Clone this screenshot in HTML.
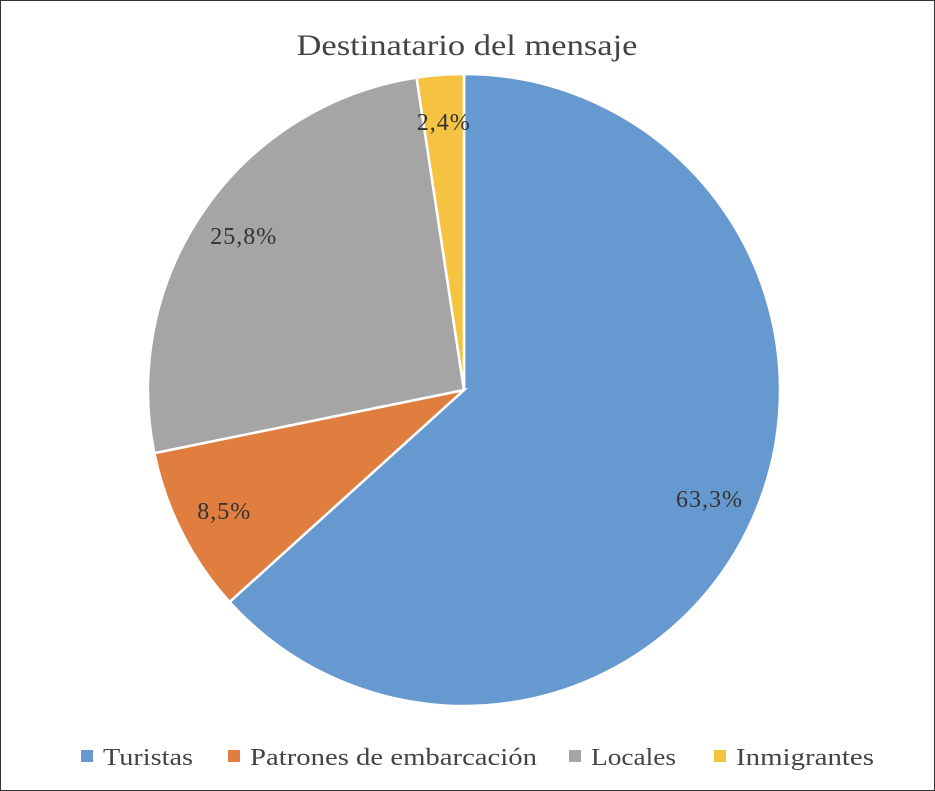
<!DOCTYPE html>
<html><head><meta charset="utf-8"><style>
body{margin:0;background:#fff}
#wrap{position:relative;width:933px;height:789px;border:1px solid #333;background:#fff;overflow:hidden}
text{font-family:"Liberation Serif",serif}
</style></head><body>
<div id="wrap">
<svg id="chart" width="933" height="789">
<text x="466" y="54" text-anchor="middle" font-size="30" fill="#444" textLength="341" lengthAdjust="spacingAndGlyphs">Destinatario del mensaje</text>
<g id="slices"></g><g id="labels"></g><g id="legend"></g>
</svg></div>
<script>
const categories=["Turistas","Patrones de embarcación","Locales","Inmigrantes"];
const values=[63.3,8.5,25.8,2.4];
const valueLabels=["63,3%","8,5%","25,8%","2,4%"];
const colors=["#6699D0","#E07E40","#A5A5A5","#F5C242"];
const ns="http://www.w3.org/2000/svg";
const cx=463,cy=389,R=316;
const total=values.reduce((a,b)=>a+b,0);
let a0=0;
const sg=document.getElementById('slices'),lg=document.getElementById('labels'),leg=document.getElementById('legend');
function pt(a,r){return [cx+r*Math.sin(a),cy-r*Math.cos(a)];}
values.forEach((v,i)=>{
 const a1=a0+v/total*2*Math.PI;
 const p0=pt(a0,R),p1=pt(a1,R);
 const p=document.createElementNS(ns,'path');
 p.setAttribute('d',`M${cx},${cy}L${p0[0]},${p0[1]}A${R},${R} 0 ${a1-a0>Math.PI?1:0} 1 ${p1[0]},${p1[1]}Z`);
 p.setAttribute('fill',colors[i]);p.setAttribute('stroke','#fff');p.setAttribute('stroke-width','2.5');
 
 
 sg.appendChild(p);
 const m=pt((a0+a1)/2,R*0.85);
 const t=document.createElementNS(ns,'text');
 t.setAttribute('x',m[0]);t.setAttribute('y',m[1]+8);t.setAttribute('text-anchor','middle');
 t.setAttribute('font-size','24');t.setAttribute('letter-spacing','1');t.setAttribute('fill','#333');t.textContent=valueLabels[i];
 
 
 lg.appendChild(t);
 a0=a1;
});
const lx=[80,227,568,713];
const lw=[90,287,85,138];
categories.forEach((c,i)=>{
 const g=document.createElementNS(ns,'g');
 
 
 const r=document.createElementNS(ns,'rect');
 r.setAttribute('x',lx[i]);r.setAttribute('y',749);r.setAttribute('width',12);r.setAttribute('height',12);r.setAttribute('fill',colors[i]);
 const t=document.createElementNS(ns,'text');
 t.setAttribute('x',lx[i]+22);t.setAttribute('y',764);t.setAttribute('font-size','24');t.setAttribute('fill','#444');
 t.setAttribute('textLength',lw[i]);t.setAttribute('lengthAdjust','spacingAndGlyphs');t.textContent=c;
 g.appendChild(r);g.appendChild(t);leg.appendChild(g);
});
</script>
</body></html>
